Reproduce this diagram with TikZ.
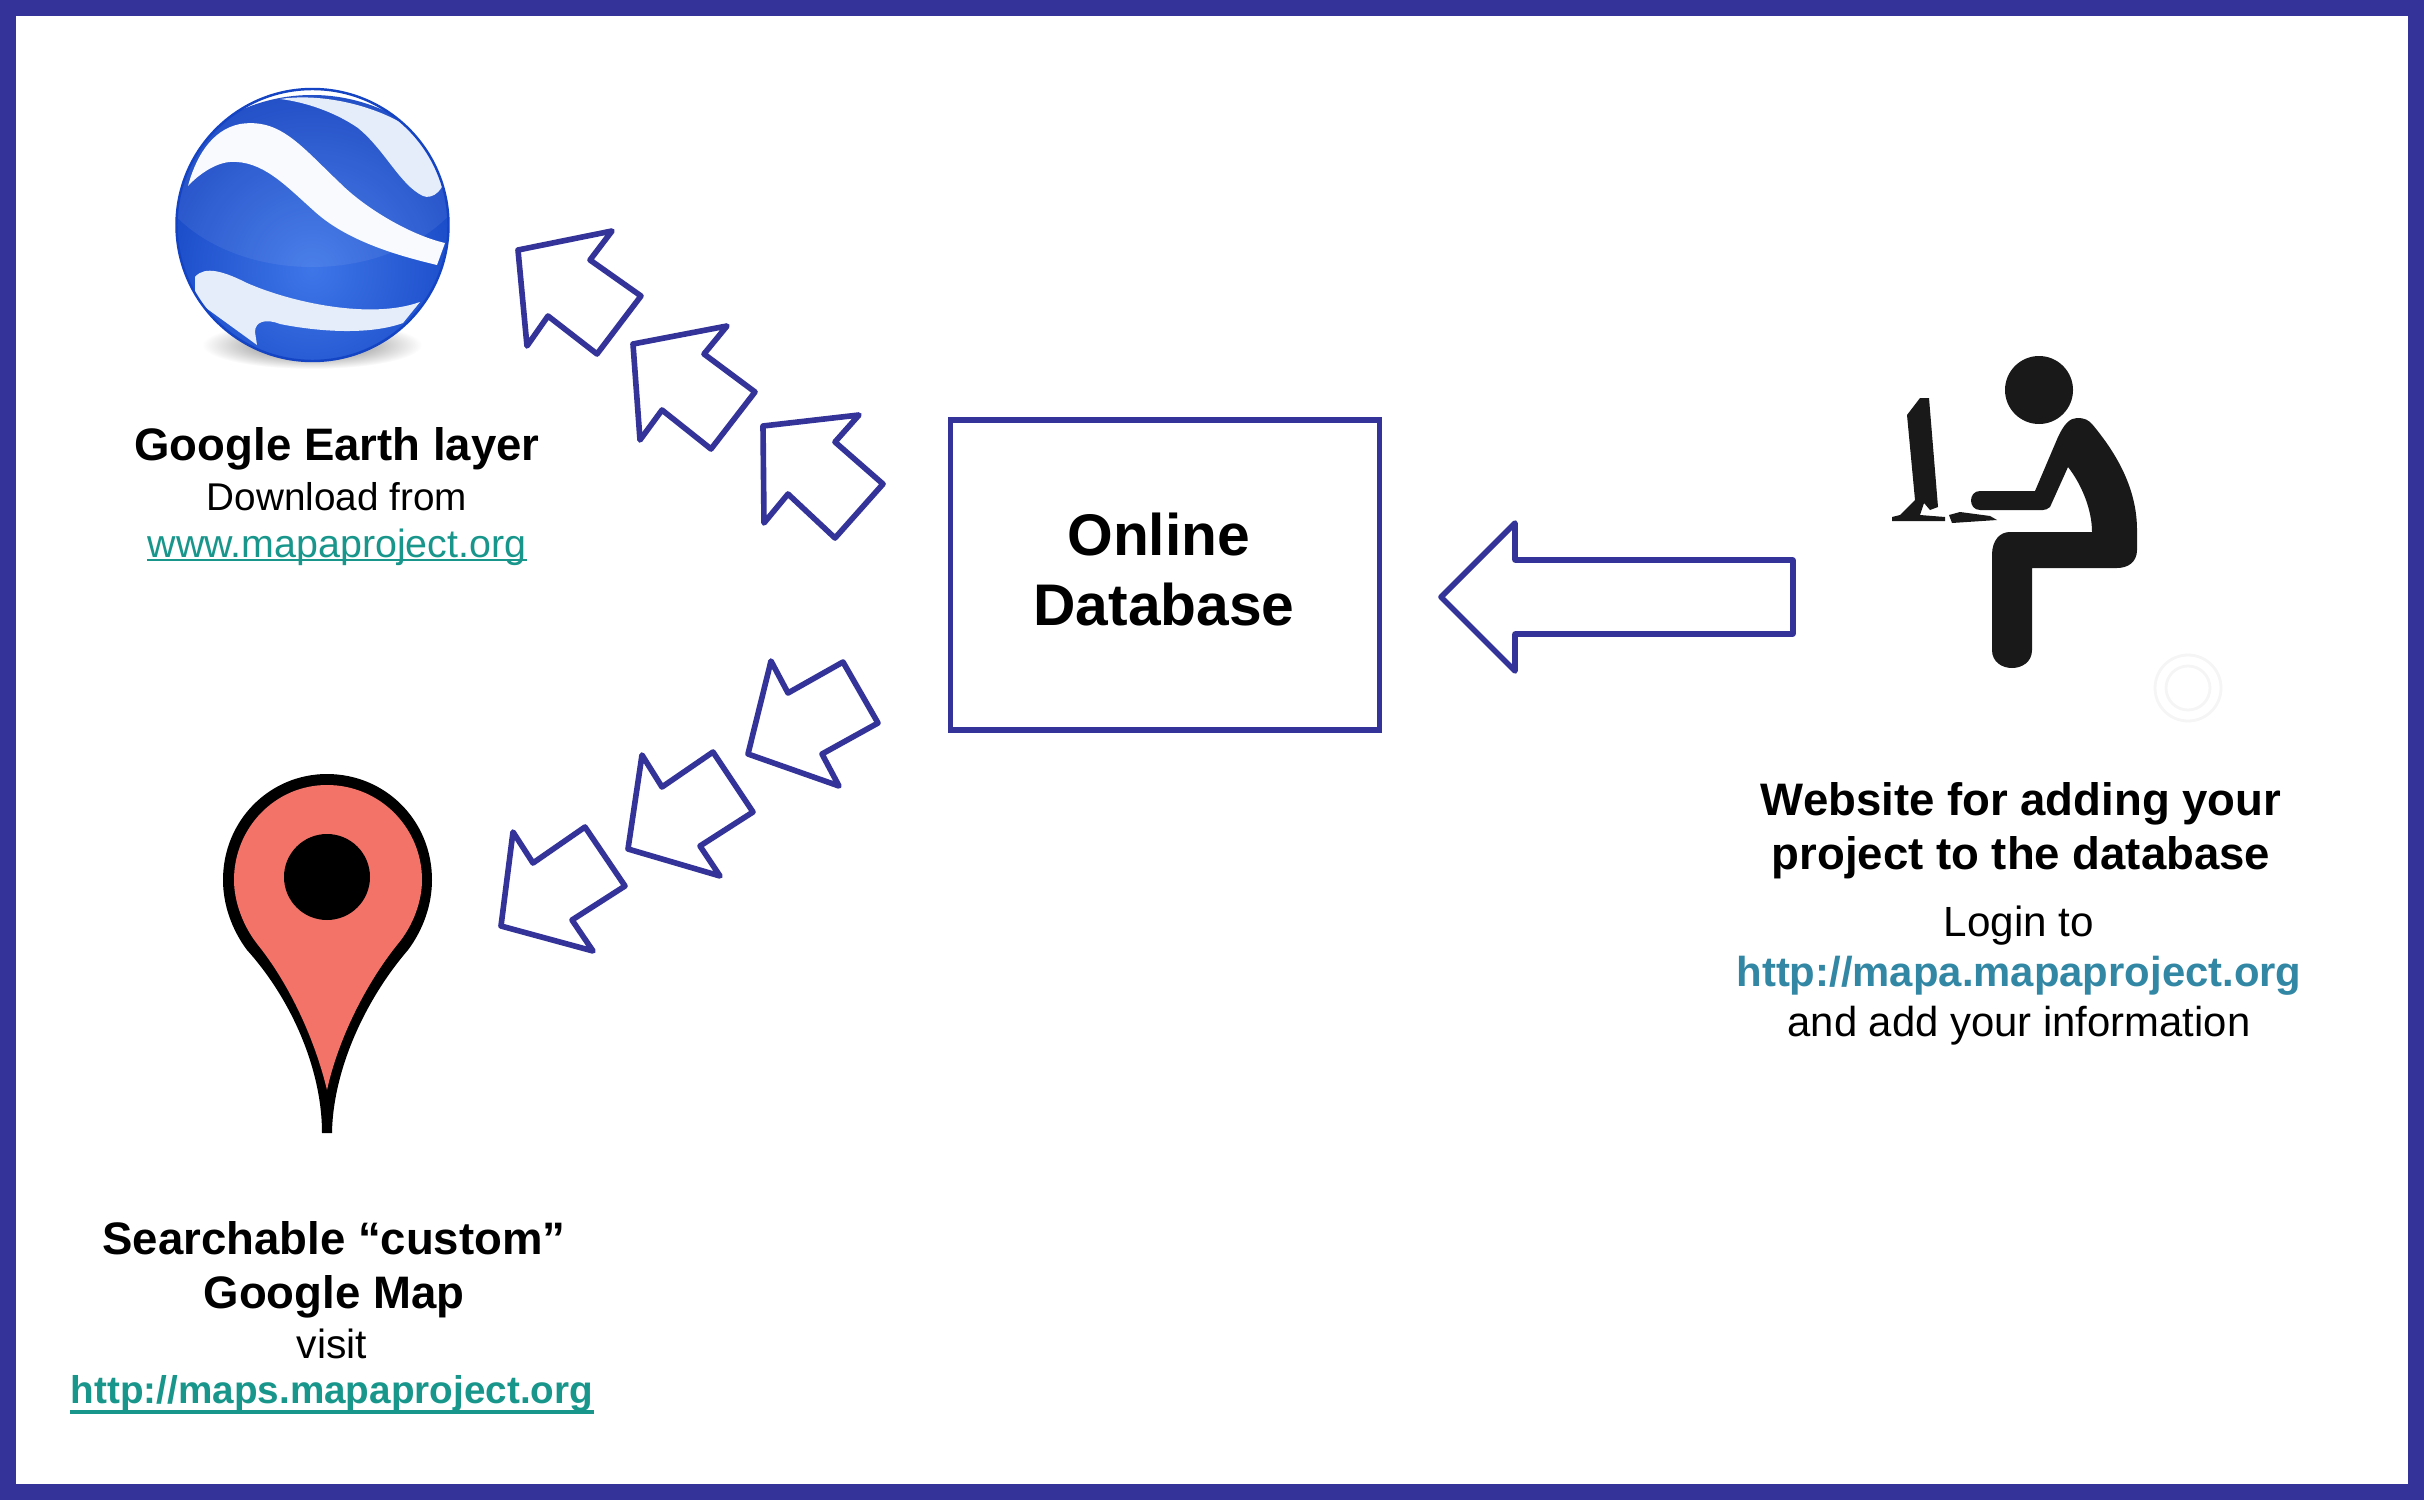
\documentclass[tikz,border=0pt]{standalone}
\usepackage{fontspec}
\setmainfont{Liberation Sans}
\definecolor{Frameblue}{RGB}{51, 51, 153}
\definecolor{Linkteal}{RGB}{25, 150, 140}
\definecolor{Linkblue}{RGB}{50, 135, 165}
\definecolor{Pinred}{RGB}{244, 115, 105}
\definecolor{Globeblue}{RGB}{42, 95, 210}
\definecolor{Globelight}{RGB}{62, 118, 232}
\definecolor{Globedark}{RGB}{20, 68, 195}
\tikzset{
  blockarrow/.style={draw=Frameblue, line width=1.6pt, line join=round},
  titletext/.style={font=\fontsize{12.95}{15.3}\selectfont\bfseries, align=center},
  plaintext/.style={font=\fontsize{11.6}{14}\selectfont, align=center},
  linkline/.style={Linkteal, line width=0.8pt}
}
\begin{document}
\begin{tikzpicture}[x=0.01cm,y=-0.01cm]
\useasboundingbox (0,0) rectangle (2424,1500);
\draw[Frameblue, line width=4.55pt] (8,8) rectangle (2416,1492);
% globe
\shade[inner color=black!60, outer color=white] (312,345) ellipse (110 and 24);
\begin{scope}
\clip (312.5,225) circle (136);
\shade[inner color=Globelight, outer color=Globedark] (312,270) circle (175);
\fill[white, opacity=0.07] (312,150) ellipse (165 and 117);
\fill[white!88!Globeblue] (280,99) .. controls (340,90) and (430,120) .. (445,170) .. controls (447,190) and (432,200) .. (423,196) .. controls (400,185) and (385,150) .. (358,128) .. controls (335,112) and (305,102) .. (280,99) -- cycle;
\fill[white!97!Globeblue] (188,186) .. controls (195,160) and (210,130) .. (240,124) .. controls (280,118) and (300,145) .. (340,183) .. controls (365,208) and (410,235) .. (445,243) -- (437,265) .. controls (395,255) and (345,240) .. (313,210) .. controls (285,185) and (262,160) .. (230,162) .. controls (215,163) and (198,175) .. (188,186) -- cycle;
\fill[white!88!Globeblue] (195,277) .. controls (205,265) and (225,272) .. (247,283) .. controls (290,302) and (370,320) .. (420,302) -- (403,323) .. controls (370,335) and (320,332) .. (280,324) .. controls (265,318) and (255,322) .. (255,332) -- (257,345) -- (195,300) -- cycle;
\end{scope}
\draw[Globedark, line width=0.7pt] (312.5,225) circle (136);
\node (earthtitle) [titletext] at (337,449) {Google Earth layer};
\node (earthfrom) [plaintext, font=\fontsize{11}{14}\selectfont] at (337,497) {Download from};
\node (earthlink) [plaintext, font=\fontsize{11.2}{14}\selectfont, text=Linkteal, inner sep=0pt] at (337,547) {www.mapaproject.org};
\draw[linkline] ([yshift=1.7pt]earthlink.south west)--([yshift=1.7pt]earthlink.south east);
% arrows going up
\draw[blockarrow] (518,250)--(612,231)--(590,260)--(641,296)--(597,354)--(548,316)--(527,346)--cycle;
\draw[blockarrow] (633,344)--(727,326)--(704,354)--(755,392)--(711,449)--(662,410)--(640,440)--cycle;
\draw[blockarrow] (763,426)--(859,415)--(835,442)--(883,484)--(835,538)--(788,494)--(764,523)--cycle;
% arrows going down
\draw[blockarrow] (748,754)--(771,661)--(788,693)--(843,662)--(878,723)--(822,754)--(839,786)--cycle;
\draw[blockarrow] (628,849)--(642,755)--(662,787)--(713,752)--(753,812)--(700,846)--(720,876)--cycle;
\draw[blockarrow] (501,926)--(513,832)--(533,863)--(585,827)--(625,886)--(572,920)--(593,951)--cycle;
% box
\node (database) [draw=Frameblue, line width=1.6pt, minimum width=4.29cm, minimum height=3.1cm] at (1165,575) {};
\node (databasetext) [font=\fontsize{16.7}{19.8}\selectfont\bfseries, align=center] at (1164,569.5) {Online\hspace*{0.18em}\\Database};
\draw[blockarrow] (1441,597)--(1515,523)--(1515,560)--(1793,560)--(1793,634)--(1515,634)--(1515,671)--cycle;
% person
\fill[black!90] (2039,390) circle (34);
\fill[black!90] (1980,491)--(2035,491)--(2058,437) .. controls (2064,424) and (2070,418) .. (2077,418) .. controls (2085,418) and (2088,420) .. (2092,424) .. controls (2118,455) and (2137,490) .. (2137,530)--(2137,550) .. controls (2137,562) and (2128,568) .. (2117,568)--(2032,568)--(2032,650) .. controls (2032,674) and (1992,674) .. (1992,650)--(1992,555) .. controls (1992,540) and (2000,532) .. (2010,532)--(2092,532) .. controls (2092,510) and (2082,485) .. (2068,467)--(2050,507) .. controls (2048,509) and (2045,510) .. (2043,510)--(1980,510) .. controls (1968,510) and (1968,491) .. (1980,491)--cycle;
\fill[black!90] (1907,415)--(1920,398)--(1929,398)--(1938,507)--(1930,510)--(1924,503)--(1920,515)--(1945,517)--(1945,521)--(1892,521)--(1892,517)--(1900,515)--(1905,510)--(1915,500)--cycle;
\fill[black!90] (1949,515)--(1960,512)--(1990,516)--(1997,520)--(1952,523)--cycle;
\draw[black!4, line width=0.8pt] (2188,688) circle (33);
\draw[black!4, line width=0.8pt] (2188,688) circle (22);
\node (sitetitle) [titletext] at (2021,831) {Website for adding your\\project to the database};
\node (sitelogin) [plaintext, font=\fontsize{12}{14}\selectfont] at (2019,926) {Login to};
\node (sitelink) [titletext, font=\fontsize{11.9}{14}\selectfont\bfseries, text=Linkblue] at (2019,976) {http://mapa.mapaproject.org};
\node (siteadd) [plaintext, font=\fontsize{11.9}{14}\selectfont] at (2019,1026) {and add your information};
% pin
\fill[black] (322,1133) .. controls (322,1070) and (292,1000) .. (247,950) .. controls (232,930) and (223,905) .. (223,880) .. controls (223,820) and (270,774) .. (327,774) .. controls (385,774) and (432,820) .. (432,880) .. controls (432,905) and (423,930) .. (408,950) .. controls (365,1000) and (333,1070) .. (332,1133) -- cycle;
\fill[Pinred] (327,1090) .. controls (315,1040) and (290,985) .. (258,945) .. controls (242,925) and (234,900) .. (234,880) .. controls (234,828) and (275,785) .. (327,785) .. controls (380,785) and (422,828) .. (422,880) .. controls (422,900) and (414,925) .. (397,945) .. controls (365,985) and (338,1040) .. (327,1090) -- cycle;
\fill[black] (327,877) circle (43);
\node (maptitle) [titletext] at (334,1270) {Searchable “custom”\\Google Map};
\node (mapvisit) [plaintext] at (332,1344) {visit};
\node (maplink) [titletext, font=\fontsize{11}{14}\selectfont\bfseries, text=Linkteal, inner sep=0pt] at (332,1394) {http://maps.mapaproject.org};
\draw[linkline, line width=1.1pt] ([yshift=0.3pt]maplink.south west)--([yshift=0.3pt]maplink.south east);
\end{tikzpicture}
\end{document}
